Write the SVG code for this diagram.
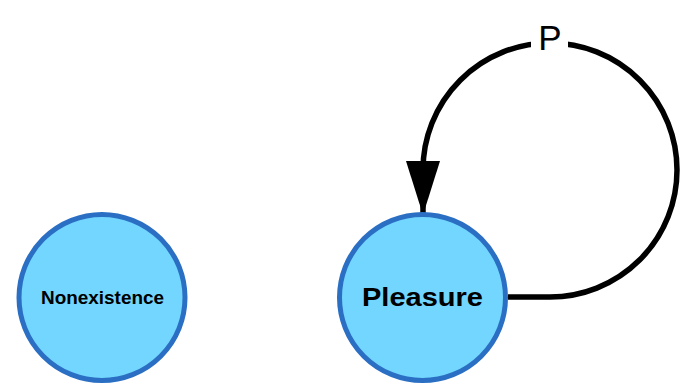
<svg xmlns="http://www.w3.org/2000/svg" width="697" height="385" viewBox="0 0 697 385">
<style>
.node{fill:#72d6fe;stroke:#2a6fc3;stroke-width:5}
.lbl{font-family:"Liberation Sans",Arial,sans-serif;font-weight:bold;text-anchor:middle;fill:#000}
.edge{fill:none;stroke:#000;stroke-width:5.5}
.elbl{font-family:"Liberation Sans",Arial,sans-serif;font-size:35px;text-anchor:middle;fill:#000}
</style>
<defs>
<marker id="arrow" markerUnits="userSpaceOnUse" markerWidth="60" markerHeight="40" refX="54" refY="17" orient="auto" viewBox="0 0 60 40">
<path d="M0,0 L54,17 L0,34 Z" fill="#000"/>
</marker>
</defs>
<rect width="697" height="385" fill="#fff"/>
<g id="connectors">
<path class="edge" d="M508,297 L550,297 A127,127 0 1 0 423,170 L423,215" marker-end="url(#arrow)"/>
<rect x="531" y="22" width="37" height="34" fill="#fff"/>
<text class="elbl" x="550" y="50">P</text>
</g>
<g id="nonexistence">
<circle class="node" cx="102" cy="297.5" r="83"/>
<text class="lbl" x="102.5" y="303.5" font-size="18.5" textLength="123" lengthAdjust="spacingAndGlyphs">Nonexistence</text>
</g>
<g id="pleasure">
<circle class="node" cx="422.5" cy="297.5" r="83"/>
<text class="lbl" x="422.5" y="305.5" font-size="26.5" textLength="121" lengthAdjust="spacingAndGlyphs">Pleasure</text>
</g>
</svg>
